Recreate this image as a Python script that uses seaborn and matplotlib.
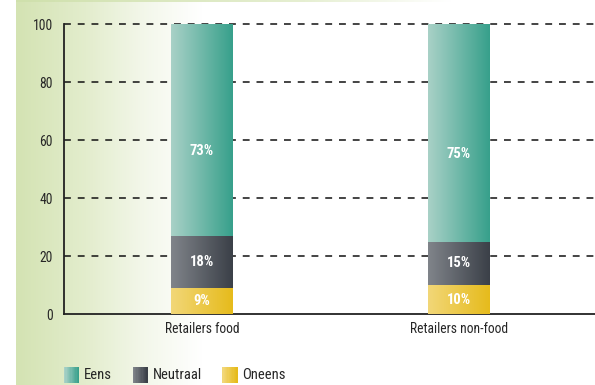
import numpy as np
import pandas as pd
import matplotlib
matplotlib.use("Agg")
import matplotlib.pyplot as plt
import seaborn as sns
from matplotlib import font_manager
from matplotlib.colors import LinearSegmentedColormap
from matplotlib.legend_handler import HandlerBase
from matplotlib.patches import Rectangle

# ---- data ----
categories = ["Retailers food", "Retailers non-food"]
series = ["Eens", "Neutraal", "Oneens"]
eens = [73, 75]
neutraal = [18, 15]
oneens = [9, 10]
yticks = [0, 20, 40, 60, 80, 100]

# ---- styles ----
grad = {
    "Eens": ("#a9d1c7", "#37a08b"),
    "Neutraal": ("#80848a", "#3b4048"),
    "Oneens": ("#f2d778", "#e6bb1c"),
}

# pick a narrow/condensed font if installed
narrow = None
stretch = "normal"
pref = ["Liberation Sans Narrow", "Roboto Condensed", "Open Sans Condensed",
        "Noto Sans Condensed", "DejaVu Sans Condensed"]
names = {f.name for f in font_manager.fontManager.ttflist}
for n in pref:
    if n in names:
        narrow = n
        break
if narrow is None:
    for f in font_manager.fontManager.ttflist:
        if f.name == "DejaVu Sans" and f.stretch not in ("normal", 500):
            narrow = "DejaVu Sans"
            stretch = "condensed"
            break
if narrow is None:
    narrow = "DejaVu Sans"

sns.set_theme(style="white")
plt.rcParams["font.family"] = [narrow, "DejaVu Sans"]
plt.rcParams["font.stretch"] = stretch
plt.rcParams["text.color"] = "#262626"

W, H = 595, 385
fig = plt.figure(figsize=(W / 100, H / 100), dpi=100)

# background gradient
bg = fig.add_axes([16 / W, 0, 1 - 16 / W, 1], zorder=-5)
bg_cmap = LinearSegmentedColormap.from_list(
    "bg", [(0, "#d4e3b3"), (0.12, "#e3edcd"), (0.22, "#f3f7ea"), (0.32, "#ffffff"), (1, "#ffffff")])
bg.imshow(np.linspace(0, 1, 512)[None, :], aspect="auto", cmap=bg_cmap,
          extent=[0, 1, 0, 1], interpolation="bilinear")
top_cmap = LinearSegmentedColormap.from_list(
    "top", [(0, "#cfe0ac"), (0.5, "#e6efd2"), (0.75, "#ffffff"), (1, "#ffffff")])
bg.imshow(np.linspace(0, 1, 512)[None, :], aspect="auto", cmap=top_cmap,
          extent=[0, 1, 1 - 2.5 / H, 1], interpolation="bilinear")
bg.set_xlim(0, 1); bg.set_ylim(0, 1)
bg.axis("off")

ax = fig.add_axes([64 / W, 71 / H, (W - 64) / W, 290 / H])
ax.set_facecolor("none")

df = pd.DataFrame({
    "category": categories,
    "Eens": eens,
    "Neutraal": neutraal,
    "Oneens": oneens,
})
df["top_Eens"] = df["Eens"] + df["Neutraal"] + df["Oneens"]
df["top_Neutraal"] = df["Neutraal"] + df["Oneens"]
df["top_Oneens"] = df["Oneens"]

bar_w = 0.24
layers = []
for s in series:
    n_before = len(ax.patches)
    sns.barplot(data=df, x="category", y="top_" + s, order=categories, ax=ax,
                width=bar_w, color=grad[s][1], linewidth=0, zorder=3)
    layers.append((s, ax.patches[n_before:]))

# gradient fill for each bar
for s, patches in layers:
    cmap = LinearSegmentedColormap.from_list(s, list(grad[s]))
    for p in patches:
        x0, y0 = p.get_x(), p.get_y()
        w, h = p.get_width(), p.get_height()
        im = ax.imshow(np.linspace(0, 1, 128)[None, :], aspect="auto", cmap=cmap,
                       extent=[x0, x0 + w, y0, y0 + h], interpolation="bilinear",
                       zorder=4)
        im.set_clip_path(p)
        p.set_facecolor("none")

# value labels
lab_kw = dict(ha="center", va="center", color="white", fontsize=10.5,
              fontweight="bold", zorder=6)
for i in range(len(categories)):
    b_on = oneens[i]
    b_ne = oneens[i] + neutraal[i]
    ax.text(i, b_on / 2, f"{oneens[i]}%", **lab_kw)
    ax.text(i, b_on + neutraal[i] / 2, f"{neutraal[i]}%", **lab_kw)
    ax.text(i, b_ne + eens[i] * 0.4, f"{eens[i]}%", **lab_kw)

# grid
for y in yticks[1:]:
    ax.axhline(y, color="#111111", lw=1.1, ls=(0, (4.5, 4.5)), zorder=2, clip_on=False)

ax.set_xlim(-0.537, 1.53)
ax.set_ylim(0, 100)
ax.set_yticks(yticks)
ax.set_yticklabels([str(t) for t in yticks], fontsize=9.8)
ax.set_xticks([0, 1])
ax.set_xticklabels(categories, fontsize=9.8)
ax.tick_params(axis="x", length=0, pad=6)
ax.tick_params(axis="y", length=6, width=1.2, direction="out", pad=2, color="#222222")
ax.set_xticks([0.514], minor=True)
ax.tick_params(axis="x", which="minor", length=6, width=1.2, direction="out", color="#222222")
ax.set_xlabel("")
ax.set_ylabel("")
for side in ["top", "right"]:
    ax.spines[side].set_visible(False)
for side in ["left", "bottom"]:
    ax.spines[side].set_color("#222222")
    ax.spines[side].set_linewidth(1.3)


class GradHandler(HandlerBase):
    def __init__(self, c0, c1, n=12):
        super().__init__()
        self.c0, self.c1, self.n = c0, c1, n

    def create_artists(self, legend, orig_handle, xdescent, ydescent, width, height,
                       fontsize, trans):
        cmap = LinearSegmentedColormap.from_list("h", [self.c0, self.c1])
        arts = []
        for k in range(self.n):
            r = Rectangle((-xdescent + width * k / self.n, -ydescent - 2),
                          width / self.n + 0.3, height + 3,
                          facecolor=cmap(k / (self.n - 1)), edgecolor="none",
                          transform=trans)
            arts.append(r)
        return arts


handles = [Rectangle((0, 0), 1, 1) for _ in series]
leg = fig.legend(handles, series, loc="center left",
                 bbox_to_anchor=(64 / W, 1 - 375 / H), ncol=3, frameon=False,
                 borderpad=0, borderaxespad=0,
                 fontsize=10.5, handlelength=1.03, handleheight=0.9, handletextpad=0.35,
                 columnspacing=1.4,
                 handler_map={h: GradHandler(*grad[s]) for h, s in zip(handles, series)})

fig.savefig("out.png", dpi=100)
